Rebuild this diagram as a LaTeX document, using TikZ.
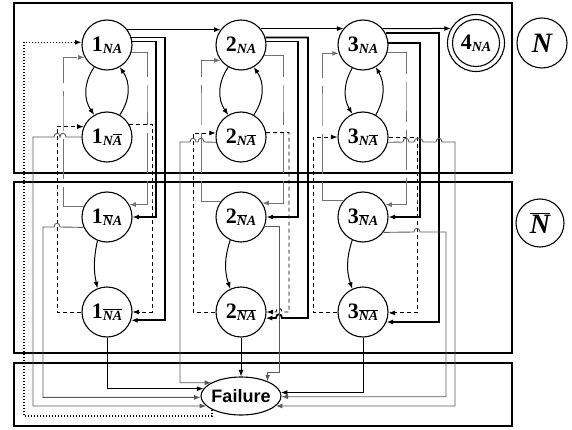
\documentclass[tikz,border=0pt]{standalone}
\usepackage{fontspec}
\newfontfamily\failfont{Liberation Sans}
\newfontfamily\labfont{Liberation Serif}
\usetikzlibrary{arrows.meta,shapes.geometric}
\newcommand\jmpx[3]{-- (#1,#3) .. controls +(0,-5) and +(0,-5) .. (#2,#3)}
\newcommand\stl[2]{{\labfont\bfseries\fontsize{22}{22}\selectfont #1}\raisebox{-0.5ex}{\labfont\bfseries\itshape\fontsize{14}{14}\selectfont #2}}
\newcommand\ovl[1]{$\overline{\hbox{#1}}$}
\begin{document}
\begin{tikzpicture}[x=1pt,y=-1pt,
  >={Latex[length=6.5pt,width=5pt]},
  st/.style={circle,draw,line width=1.1pt,minimum size=50pt,inner sep=0pt},
  box/.style={draw,line width=2.4pt},
  ln/.style={line width=1pt,->},
  lk/.style={line width=1.8pt,->},
  ld/.style={line width=0.9pt,dash pattern=on 4pt off 3pt,->},
  lg/.style={line width=1pt,black!55,dash pattern=on 40pt off 8pt,->},
  lf/.style={line width=0.9pt,black!65,->},
  lb/.style={line width=0.9pt,->},
  lt/.style={line width=1.3pt,dash pattern=on 1.2pt off 1.8pt,->}
]
\useasboundingbox (0,0) rectangle (572,430);
% boxes
\draw[box] (14,3) rectangle (512,173);
\draw[box] (14,182) rectangle (512,353);
\draw[box] (14,363) rectangle (512,426);
% states
\node[st] (a1) at (107,45) {\stl{1}{NA}};
\node[st] (b1) at (107,137) {\stl{1}{N\ovl{A}}};
\node[st] (c1) at (107,217) {\stl{1}{\ovl{N}A}};
\node[st] (d1) at (107,312) {\stl{1}{\ovl{NA}}};
\node[st] (a2) at (241,45) {\stl{2}{NA}};
\node[st] (b2) at (241,137) {\stl{2}{N\ovl{A}}};
\node[st] (c2) at (241,217) {\stl{2}{\ovl{N}A}};
\node[st] (d2) at (241,312) {\stl{2}{\ovl{NA}}};
\node[st] (a3) at (363,45) {\stl{3}{NA}};
\node[st] (b3) at (363,137) {\stl{3}{N\ovl{A}}};
\node[st] (c3) at (363,217) {\stl{3}{\ovl{N}A}};
\node[st] (d3) at (363,312) {\stl{3}{\ovl{NA}}};
\node[circle,draw,line width=1.1pt,minimum size=57pt,inner sep=0pt] (a4) at (476,43) {};
\node[st,minimum size=47pt] (a4i) at (a4) {\stl{4}{NA}};
\node[st,font=\labfont\bfseries\itshape\fontsize{28}{28}\selectfont] (N) at (542,43) {N};
\node[st,minimum size=48pt,font=\labfont\bfseries\itshape\fontsize{28}{28}\selectfont] (Nb) at (540,223) {\ovl{N}};
\node[ellipse,draw,line width=1.1pt,minimum width=80pt,minimum height=38pt,inner sep=0pt] (F) at (241,396) {\failfont\bfseries\fontsize{18}{20}\selectfont\makebox[30pt]{Failure}};
% top row
\draw[ln] (a1.37) -- (a2.143);
\draw[ln] (a2.40) -- (a3.140);
\draw[ln] (a3.40) -- (a4.150);
% curves
\draw[ln] (a1.-120) to[bend right=35] (b1.120);
\draw[ln] (b1.60) to[bend right=35] (a1.-60);
\draw[ln] (a2.-120) to[bend right=35] (b2.120);
\draw[ln] (b2.60) to[bend right=35] (a2.-60);
\draw[ln] (a3.-115) to[bend right=30] (b3.115);
\draw[ln] (b3.60) to[bend right=30] (a3.-60);
\draw[ln] (c1.-112) to[bend right=12] (d1.112);
\draw[ln] (c2.-115) to[bend right=18] (d2.115);
\draw[ln] (c3.-115) to[bend right=18] (d3.115);
% column 1
\draw[lk] (a1.17) -| (165,200) |- (d1.-19);
\draw[lk] (a1.8) -| (156,150) |- (c1.east);
\draw[ld] (b1.30) -| (152,200) |- (d1.east);
\draw[ld] (d1.west) -| (57,200) |- (b1.156);
\draw[lg] (a1.-18) -| (147,100) |- (c1.29);
\draw[lg] (c1.156) -| (63,100) |- (a1.-151);
\draw[lf] (c1.-156) \jmpx{60}{54}{227} -| (43,300) |- (F.-178.6);
\draw[lf] (b1.west) \jmpx{66}{60}{137} \jmpx{60}{54}{137} -| (33,300) |- (F.196.4);
\draw[lb] (d1.south) |- (F.169.3);
\draw[lt] (F.-155.7) |- (24,416) |- (a1.174);
% column 2
\draw[lk] (a2.17) -| (308,318) \jmpx{282}{276}{318} -- (d2.-14);
\draw[lk] (a2.8) -| (298,150) |- (c2.east);
\draw[ld] (b2.10) -| (289,312) \jmpx{282}{276}{312} -- (d2.east);
\draw[ld] (d2.west) -| (193,200) |- (b2.171);
\draw[lg] (a2.-24) -| (283,100) |- (c2.33);
\draw[lg] (c2.143) -| (201,100) |- (a2.-143);
\draw[lf] (c2.-21) -| (279,372) -| (F.29);
\draw[lf] (b2.-168) \jmpx{204}{198}{142} \jmpx{196}{190}{142} -| (180,300) |- (F.156);
\draw[lb] (d2.south) -- (F.north);
% column 3
\draw[lk] (a3.28) -| (439,200) |- (d3.-23);
\draw[lk] (a3.5) -| (420,150) |- (c3.east);
\draw[ld] (b3.east) -| (417,200) |- (d3.-2);
\draw[ld] (d3.west) -| (313,200) |- (b3.west);
\draw[lg] (a3.-18) -| (406,100) |- (c3.29);
\draw[lg] (c3.140) -| (322,100) |- (a3.-161);
\draw[lf] (c3.-37) \jmpx{414}{420}{232} -| (446,300) |- (F.-1.4);
\draw[lf] (b3.-12) \jmpx{403}{409}{142} \jmpx{414}{423}{142} \jmpx{436}{442}{142} -| (455,300) |- (F.-16.4);
\draw[lb] (d3.south) |- (F.5.8);
\end{tikzpicture}
\end{document}
